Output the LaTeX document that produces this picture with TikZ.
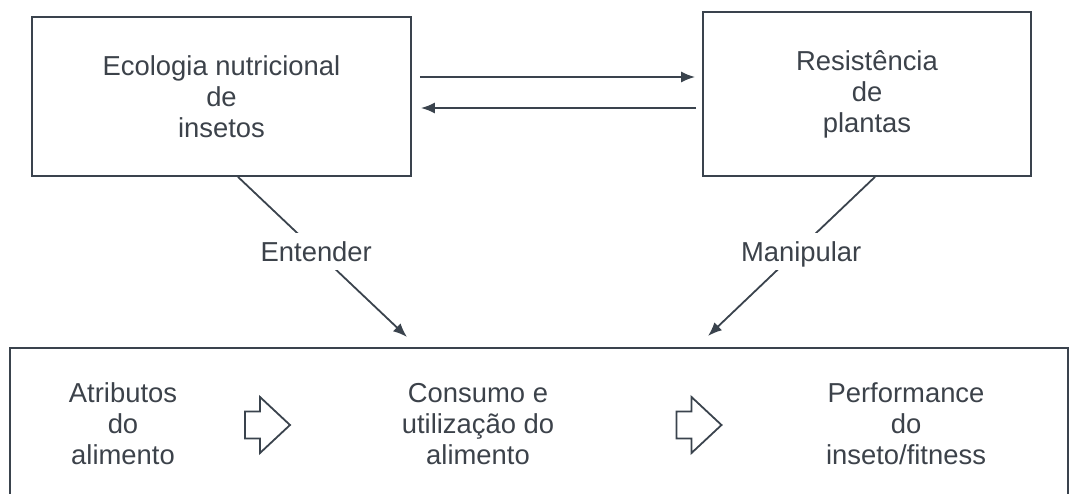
\documentclass[tikz,border=0pt]{standalone}
\usepackage{fontspec}
\setmainfont{Liberation Sans}
\usetikzlibrary{arrows.meta}

\definecolor{ink}{HTML}{3A434D}
\definecolor{txt}{HTML}{3C424A}

\tikzset{
  boxnode/.style={draw=ink, line width=1.8pt, fill=none, inner sep=0pt},
  label/.style={text=txt, font=\fontsize{27.4}{31}\selectfont, align=center},
  conn/.style={draw=ink, line width=1.8pt},
  tip/.style={-{Latex[length=14pt,width=11pt]}},
  gaplabel/.style={label, fill=white, inner xsep=4pt, inner ysep=8.5pt,
                   text height=20pt, text depth=0pt},
  hollow/.pic={
    \draw[ink, line width=1.8pt, line join=miter]
      (-22.5,-13.5) -- (-7.5,-13.5) -- (-7.5,-28) -- (22.5,0)
      -- (-7.5,28) -- (-7.5,13.5) -- (-22.5,13.5) -- cycle;
  }
}

\begin{document}
\begin{tikzpicture}[x=1pt, y=-1pt]
  \useasboundingbox (0,0) rectangle (1071,493);

  % upper boxes
  \node[boxnode, minimum width=379pt, minimum height=159pt] (eco) at (221.5,96.5) {};
  \node[label] at (eco.center) {Ecologia nutricional\\de\\insetos};

  \node[boxnode, minimum width=328pt, minimum height=164pt] (res) at (867,94) {};
  \node[label] at (res.center) {Resistência\\de\\plantas};

  % lower frame
  \node[boxnode, minimum width=1058pt, minimum height=149pt] (frame) at (539,422.5) {};

  % two-way link between the upper boxes
  \draw[conn, tip] ([shift={(8pt,19.5pt)}]eco.east) -- ([shift={(-7pt,17pt)}]res.west);
  \draw[conn, tip] ([shift={(-6pt,-14pt)}]res.west) -- ([shift={(9pt,-11.5pt)}]eco.east);

  % arrow ends above the frame
  \coordinate (entEnd) at (407,337);
  \coordinate (manEnd) at (708,336);

  \draw[conn, tip] ([xshift=16.5pt]eco.south) -- node[gaplabel, pos=0.463] {Entender} (entEnd);
  \draw[conn, tip] ([xshift=8pt]res.south) -- node[gaplabel, pos=0.466, xshift=4pt] {Manipular} (manEnd);

  % contents of the frame
  \node[label] (atr) at (123,424) {Atributos\\do\\alimento};
  \node[label] (cons) at (478,424) {Consumo e\\utilização do\\alimento};
  \node[label] (perf) at (906,424) {Performance\\do\\inseto/fitness};

  \pic at (267.5,425) {hollow};
  \pic at (699,425) {hollow};
\end{tikzpicture}
\end{document}
